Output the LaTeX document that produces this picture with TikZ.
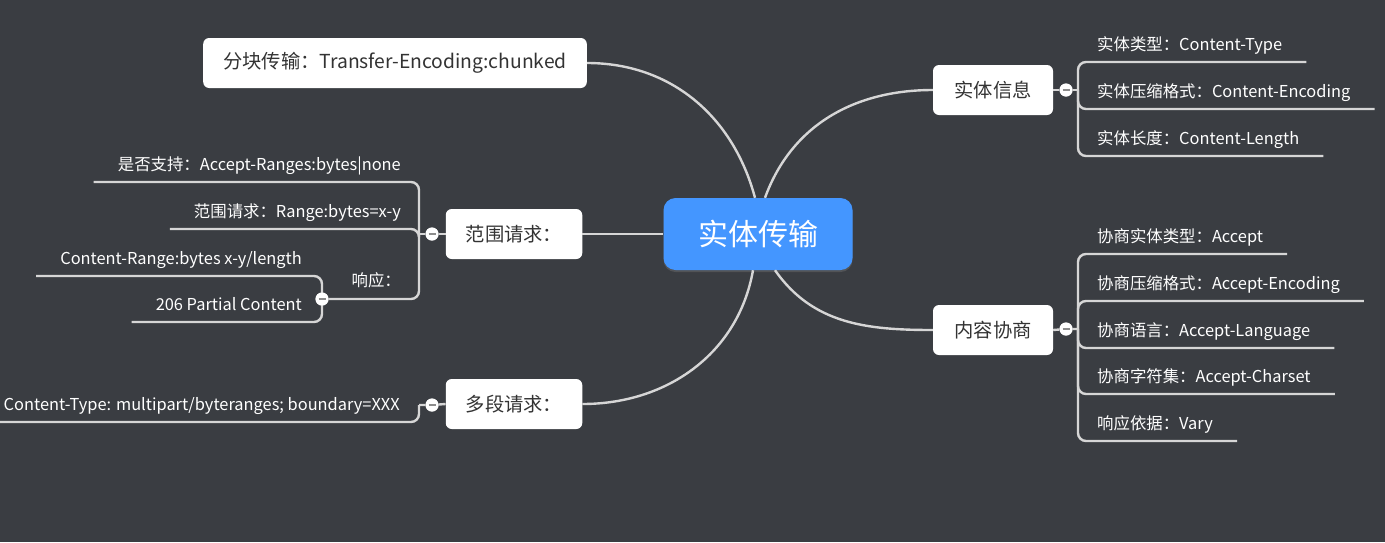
\documentclass[tikz,border=0pt]{standalone}
\usepackage{fontspec}
\setmainfont{Noto Sans CJK SC}
\usetikzlibrary{shadows}
\definecolor{fond}{HTML}{3A3D42}
\definecolor{bleu}{HTML}{4496FF}
\definecolor{trait}{HTML}{D6D6D6}
\definecolor{encre}{HTML}{333333}
\definecolor{moins}{HTML}{8C8C8C}
\begin{document}
\begin{tikzpicture}[x=1pt,y=-1pt]
            \tikzstyle{coeur}=[fill=bleu,rounded corners=12pt,text=white,font=\fontsize{30}{36}\selectfont,minimum width=189pt,minimum height=72pt,drop shadow={shadow xshift=0pt,shadow yshift=-2pt,opacity=.35}]
            \tikzstyle{theme}=[fill=white,rounded corners=6pt,text=encre,font=\fontsize{19.3}{23}\selectfont,inner xsep=20pt,minimum width=120pt,minimum height=50pt]
            \tikzstyle{feuille}=[text=white,font=\fontsize{16.4}{20}\selectfont,inner sep=0pt]
            \tikzstyle{branche}=[draw=trait,line width=2.4pt,rounded corners=8pt]
            \tikzstyle{pli}=[circle,fill=white,minimum size=13pt,inner sep=0pt,path picture={\draw[moins,line width=2pt] ([xshift=-3.5pt]path picture bounding box.center) -- ([xshift=3.5pt]path picture bounding box.center);}]
            \fill[fond] (0,0) rectangle (1385,542);
            \useasboundingbox (0,0) rectangle (1385,542);
            % centre et themes
            \node[coeur] (c) at (758,234) {实体传输};
            \node[theme] (a) at (395,63)  {分块传输：Transfer-Encoding:chunked};
            \node[theme] (r) at (514,234) {范围请求：};
            \node[theme] (m) at (514,404) {多段请求：};
            \node[theme] (i) at (993,90)  {实体信息};
            \node[theme] (n) at (993,330) {内容协商};
            \draw[branche] (a.east) to[out=0,in=105] ([xshift=-3pt]c.north);
            \draw[branche] ([xshift=7pt]c.north) to[out=70,in=180] (i.west);
            \draw[branche] (r.east) -- (c.west);
            \draw[branche] ([xshift=-5pt]c.south) to[out=-100,in=0] (m.east);
            \draw[branche] ([xshift=17pt]c.south) to[out=-55,in=180] (n.west);
            % plis
            \node[pli] (pi) at (1066,90) {};
            \node[pli] (pn) at (1066,329) {};
            \node[pli] (pr) at (432,234) {};
            \node[pli] (pm) at (432,405) {};
            \coordinate (ji) at (1078,90);
            \coordinate (jn) at (1078,329);
            \coordinate (jr) at (419,234);
            \coordinate (jm) at (419,405);
            % feuilles a droite
            \node[feuille,anchor=base west] (i1) at (1097,50)  {实体类型：Content-Type};
            \node[feuille,anchor=base west] (i2) at (1097,97)  {实体压缩格式：Content-Encoding};
            \node[feuille,anchor=base west] (i3) at (1097,144) {实体长度：Content-Length};
            \node[feuille,anchor=base west] (n1) at (1097,242) {协商实体类型：Accept};
            \node[feuille,anchor=base west] (n2) at (1097,289) {协商压缩格式：Accept-Encoding};
            \node[feuille,anchor=base west] (n3) at (1097,336) {协商语言：Accept-Language};
            \node[feuille,anchor=base west] (n4) at (1097,382) {协商字符集：Accept-Charset};
            \node[feuille,anchor=base west] (n5) at (1097,429) {响应依据：Vary};
            % feuilles a gauche
            \node[feuille,anchor=base east] (r1) at (401,170) {是否支持：Accept-Ranges:bytes|none};
            \node[feuille,anchor=base east] (r2) at (401,217) {范围请求：Range:bytes=x-y};
            \node[feuille,anchor=base east] (r3) at (401,286) {响应：};
            \node[pli] (p3) at (322,299) {};
            \node[feuille,anchor=base east] (s1) at (302,264) {Content-Range:bytes x-y/length};
            \node[feuille,anchor=base east] (s2) at (302,310) {206 Partial Content};
            \node[feuille,anchor=base east] (m1) at (400,410) {Content-Type: multipart/byteranges; boundary=XXX};
            % traits
            \draw[branche] (i.east) -- (pi) -- (ji);
            \draw[branche] (n.east) -- (pn) -- (jn);
            \draw[branche] (r.west) -- (pr) -- (jr);
            \draw[branche] (m.west) -- (pm) -- (jm);
            \foreach \f in {i1,i2,i3} \draw[branche] (ji) |- ([shift={(24pt,-12pt)}]\f.base east);
            \foreach \f in {n1,n2,n3,n4,n5} \draw[branche] (jn) |- ([shift={(24pt,-12pt)}]\f.base east);
            \foreach \f in {r1,r2} \draw[branche] (jr) |- ([shift={(-24pt,-12pt)}]\f.base west);
            \draw[branche] (jr) |- (p3);
            \foreach \f in {s1,s2} \draw[branche] (p3.center) |- ([shift={(-24pt,-12pt)}]\f.base west);
            \draw[branche] (jm) |- ([shift={(-24pt,-12pt)}]m1.base west);
            \foreach \p in {pi,pn,pr,pm,p3} \node[pli] at (\p) {};
        \end{tikzpicture}
\end{document}
